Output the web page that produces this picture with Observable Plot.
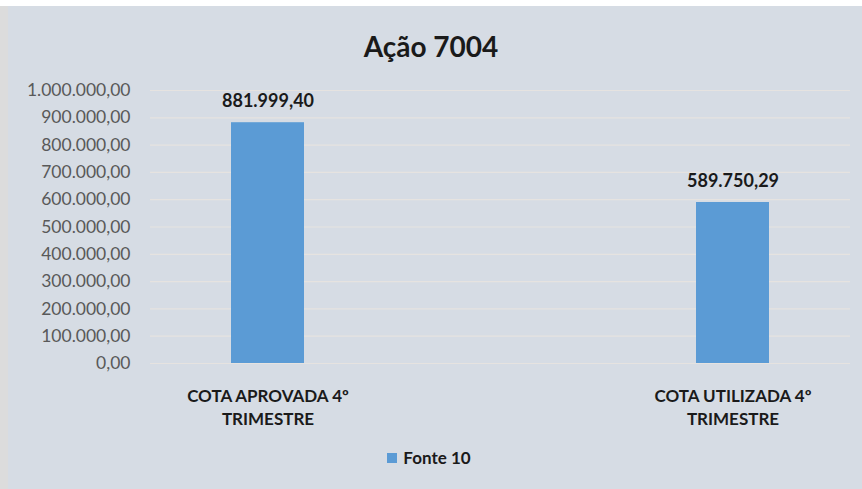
<!DOCTYPE html>
<html>
<head>
<meta charset="utf-8">
<script src="https://cdn.jsdelivr.net/npm/d3@7"></script>
<script src="https://cdn.jsdelivr.net/npm/@observablehq/plot@0.6"></script>
<style>
  html, body { margin: 0; padding: 0; background: #ffffff; }
  #wrap { position: relative; width: 862px; height: 489px; overflow: hidden; background: #ffffff; font-family: Lato, "Open Sans", sans-serif; }
  #edge { position: absolute; left: 0; top: 6px; width: 8px; bottom: 0; background: #dcdcdc; }
  #panel { position: absolute; left: 8px; top: 6px; right: 0; bottom: 0; background: #d6dce4; }
  #title { position: absolute; left: 0; width: 862px; top: 29px; text-align: center; font-size: 28px; font-weight: bold; color: #1a1a1a; line-height: 34px; }
  #chart { position: absolute; left: 0; top: 0; }
  #legend { position: absolute; left: 0; width: 862px; top: 448px; display: flex; justify-content: center; align-items: center; font-size: 17px; font-weight: bold; color: #1a1a1a; line-height: 20px; }
  #legend .sw { width: 10px; height: 10px; background: #5b9bd5; margin-right: 6px; margin-left: -4px; }
</style>
</head>
<body>
<div id="wrap">
  <div id="edge"></div>
  <div id="panel"></div>
  <div id="title">Ação 7004</div>
  <div id="chart"></div>
  <div id="legend"><div class="sw"></div><span id="legtext"></span></div>
</div>
<script>
// ---- data ----
const categories = ["COTA APROVADA 4º\nTRIMESTRE", "COTA UTILIZADA 4º\nTRIMESTRE"];
const values = [881999.40, 589750.29];
const seriesName = "Fonte 10";
const yTicks = [0, 100000, 200000, 300000, 400000, 500000, 600000, 700000, 800000, 900000, 1000000];

const br = d3.formatLocale({decimal: ",", thousands: ".", grouping: [3], currency: ["R$", ""]});
const fmt = br.format(",.2f");

const data = categories.map((c, i) => ({cat: c, value: values[i]}));
document.getElementById("legtext").textContent = seriesName;

const chart = Plot.plot({
  width: 862,
  height: 440,
  marginTop: 90,
  marginBottom: 77,
  marginLeft: 150,
  marginRight: 12,
  style: {background: "transparent", fontFamily: "Lato, 'Open Sans', sans-serif", overflow: "visible"},
  x: {domain: categories, paddingInner: 0.843, paddingOuter: 0.173, align: 0.5},
  y: {domain: [0, 1000000]},
  marks: [
    Plot.gridY(yTicks, {stroke: "#e6e3e0", strokeOpacity: 1, strokeWidth: 1.2}),
    Plot.barY(data, {x: "cat", y: "value", fill: "#5b9bd5"}),
    Plot.text(data, {x: "cat", y: "value", text: d => fmt(d.value), lineAnchor: "middle", dy: -21, fontSize: 18, fontWeight: "bold", fill: "#1a1a1a"}),
    Plot.axisY({ticks: yTicks, tickFormat: fmt, tickSize: 0, tickPadding: 20, fontSize: 17.5, fill: "#595959", label: null}),
    Plot.axisX({tickSize: 0, tickPadding: 21, fontSize: 17, fontWeight: "bold", fill: "#1a1a1a", lineHeight: 1.41, label: null})
  ]
});
document.getElementById("chart").appendChild(chart);
</script>
</body>
</html>
